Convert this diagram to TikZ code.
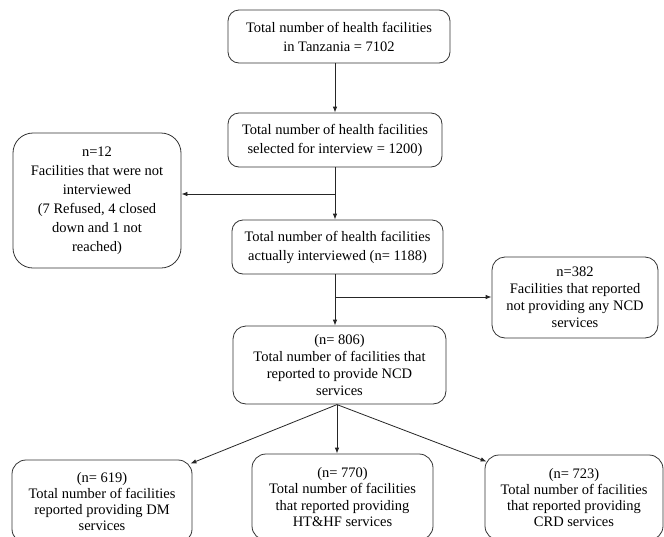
\documentclass[tikz,border=0pt]{standalone}
\usepackage{fontspec}
\setmainfont{Liberation Serif}
\usetikzlibrary{arrows.meta}
\tikzset{
  box/.style={draw=black!80, line width=0.8pt, rectangle, rounded corners=11pt,
    align=center, inner sep=0pt, font=\fontsize{14.5}{19}\selectfont},
  boxm/.style={box, font=\fontsize{14.5}{17}\selectfont},
  boxs/.style={box, font=\fontsize{14.5}{16.3}\selectfont},
  conn/.style={draw=black!85, line width=0.8pt},
  arr/.style={conn, -{Latex[length=6pt,width=4.5pt]}}
}
\begin{document}
\begin{tikzpicture}[x=1pt,y=-1pt]
\useasboundingbox[fill=white] (0,0) rectangle (664,536);
\node[box, minimum width=222pt, minimum height=53pt] (b1) at (339,36.5)
  {Total number of health facilities\\in Tanzania = 7102};
\node[box, minimum width=214pt, minimum height=54pt] (b2) at (335,140)
  {Total number of health facilities\\selected for interview = 1200)};
\node[box, minimum width=211pt, minimum height=54pt] (b3) at (337.5,247)
  {Total number of health facilities\\actually interviewed (n= 1188)};
\node[boxm, minimum width=213pt, minimum height=78pt, rounded corners=13pt] (b4) at (339.5,365)
  {(n= 806)\\Total number of facilities that\\reported to provide NCD\\services};
\node[box, minimum width=168pt, minimum height=135pt, rounded corners=20pt] (n12) at (97,200.5)
  {n=12\\Facilities that were not\\interviewed\\(7 Refused, 4 closed\\down and 1 not\\reached)};
\node[boxm, minimum width=166pt, minimum height=81pt, rounded corners=13pt] (n382) at (575,297.5)
  {n=382\\Facilities that reported\\not providing any NCD\\services};
\node[boxs, minimum width=180pt, minimum height=83pt, rounded corners=14pt] (c1) at (102,501.5)
  {(n= 619)\\Total number of facilities\\reported providing DM\\services};
\node[boxs, minimum width=181pt, minimum height=86pt, rounded corners=14pt] (c2) at (342.5,497)
  {(n= 770)\\Total number of facilities\\that reported providing\\HT\&HF services};
\node[boxs, minimum width=178pt, minimum height=85pt, rounded corners=14pt] (c3) at (574,497.5)
  {(n= 723)\\Total number of facilities\\that reported providing\\CRD services};
% connectors
\draw[arr] (b1.south -| b2.north) -- (b2.north);
\coordinate (j1) at (335,194);
\coordinate (j2) at (335,297);
\draw[arr] (b2.south) -- (b2.south |- b3.north);
\draw[arr] (j1) -- (n12.east |- j1);
\draw[arr] (b2.south |- b3.south) -- (b2.south |- b4.north);
\draw[arr] (j2) -- (n382.west |- j2);
\coordinate (s4) at (337,404.6);
\draw[arr] (s4) -- ([shift={(-2pt,-4pt)}]c1.north east);
\draw[arr] (s4) -- (s4 |- c2.north);
\draw[arr] (s4) -- ([shift={(2pt,-7pt)}]c3.north west);
\end{tikzpicture}
\end{document}
